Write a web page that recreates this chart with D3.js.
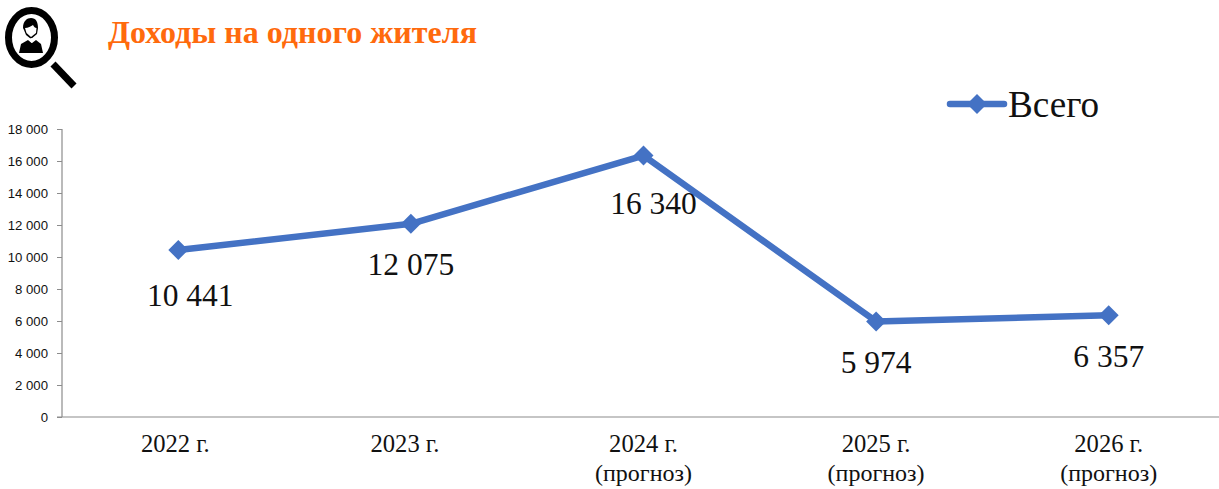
<!DOCTYPE html>
<html><head><meta charset="utf-8">
<script src="https://cdn.jsdelivr.net/npm/d3@7"></script>
<style>html,body{margin:0;padding:0;background:#fff;overflow:hidden}svg{display:block}</style>
</head><body><svg id="c" width="1219" height="489"></svg>
<script>
const categories = ["2022 г.", "2023 г.", "2024 г.", "2025 г.", "2026 г."];
const categorySub = ["", "", "(прогноз)", "(прогноз)", "(прогноз)"];
const values = [10441, 12075, 16340, 5974, 6357];
const valueLabels = ["10 441", "12 075", "16 340", "5 974", "6 357"];
const labelDx = [12, 0, 10, 0, 0];
const labelDy = [56, 51, 58, 52, 52];
const catDx = [-3, -6, 0, 0, 0];
const yTicks = [0, 2000, 4000, 6000, 8000, 10000, 12000, 14000, 16000, 18000];
const seriesName = "Всего";
const titleText = "Доходы на одного жителя";

const svg = d3.select("#c");
const serif = "'Liberation Serif','Times New Roman',serif";
const sans = "'Liberation Sans',Arial,sans-serif";
const blue = "#4472C4";

const y = d3.scaleLinear().domain([0, 18000]).range([417, 129]);
const x = d3.scaleBand().domain(categories).range([62, 1225]);
const cx = c => x(c) + x.bandwidth() / 2;

// y axis
const yAxis = d3.axisLeft(y).tickValues(yTicks).tickSize(5)
  .tickFormat(d => d3.format(",")(d).replace(/,/g, " "));
const gy = svg.append("g").attr("transform", "translate(62,0)").call(yAxis);
gy.select(".domain").attr("stroke", "#8c8c8c").attr("stroke-width", 1.2).attr("d", "M0,129V417");
gy.selectAll(".tick line").attr("stroke", "#8c8c8c").attr("stroke-width", 1);
gy.selectAll(".tick text").attr("x", -14).attr("font-family", sans).attr("font-size", 13.2).attr("fill", "#111");

// x axis
svg.append("line").attr("x1", 57).attr("x2", 1219).attr("y1", 417).attr("y2", 417)
  .attr("stroke", "#8c8c8c").attr("stroke-width", 1.2);
const xl = svg.append("g").attr("font-family", serif).attr("font-size", 24).attr("fill", "#111").attr("text-anchor", "middle");
categories.forEach((c, i) => {
  xl.append("text").attr("x", cx(c) + catDx[i]).attr("y", 452).attr("font-size", 24.6).text(c);
  if (categorySub[i]) xl.append("text").attr("x", cx(c)).attr("y", 481).text(categorySub[i]);
});

// line
const line = d3.line().x((d, i) => cx(categories[i])).y(d => y(d));
svg.append("path").datum(values).attr("d", line).attr("fill", "none")
  .attr("stroke", blue).attr("stroke-width", 6.5).attr("stroke-linejoin", "round").attr("stroke-linecap", "round");
const dPath = r => `M0,${-r}L${r},0L0,${r}L${-r},0Z`;
svg.selectAll("path.m").data(values).join("path").attr("class", "m")
  .attr("d", dPath(10)).attr("fill", blue)
  .attr("transform", (d, i) => `translate(${cx(categories[i])},${y(d)})`);

// data labels
svg.selectAll("text.v").data(values).join("text").attr("class", "v")
  .attr("x", (d, i) => cx(categories[i]) + labelDx[i])
  .attr("y", (d, i) => y(d) + labelDy[i])
  .attr("text-anchor", "middle").attr("font-family", serif).attr("font-size", 31.5).attr("fill", "#111")
  .text((d, i) => valueLabels[i]);

// legend
svg.append("line").attr("x1", 950).attr("x2", 1004).attr("y1", 104).attr("y2", 104)
  .attr("stroke", blue).attr("stroke-width", 6.5).attr("stroke-linecap", "round");
svg.append("path").attr("d", dPath(10)).attr("fill", blue).attr("transform", "translate(977,104)");
svg.append("text").attr("x", 1008).attr("y", 117).attr("font-family", serif).attr("font-size", 37.2).attr("fill", "#111").text(seriesName);

// title
svg.append("text").attr("x", 108).attr("y", 43).attr("font-family", serif).attr("font-weight", "bold")
  .attr("font-size", 32).attr("fill", "#FF6A0D").text(titleText);

// icon
const ic = svg.append("g");
ic.append("ellipse").attr("cx", 31.5).attr("cy", 37.5).attr("rx", 23).attr("ry", 27).attr("fill", "#fff").attr("stroke", "#000").attr("stroke-width", 7);
ic.append("line").attr("x1", 53).attr("y1", 64).attr("x2", 74).attr("y2", 86).attr("stroke", "#000").attr("stroke-width", 7);
ic.append("path").attr("d", "M19,53L21,44L28,40L32,43L36,40L41,44L43,53Z").attr("fill", "#000");
ic.append("path").attr("d", "M23,28C23,21 27,18 31,18C36,18 38,22 38,28L37,34L31,39L26,35L24,30Z").attr("fill", "#000");
ic.append("path").attr("d", "M25,28C28,28 31,26 33,25C34,27 35,28 36.5,28L36,33L31,37L26.5,33Z").attr("fill", "#fff");
ic.append("path").attr("d", "M28,39.5L31.5,43L35,39.5L31.5,38Z").attr("fill", "#fff");
</script></body></html>
